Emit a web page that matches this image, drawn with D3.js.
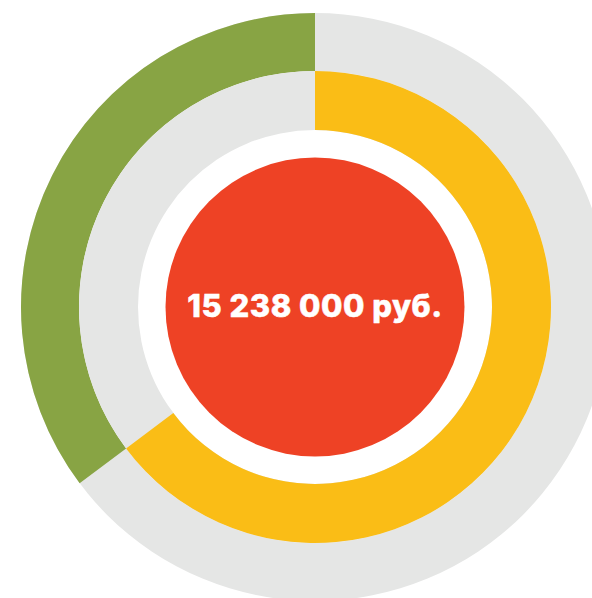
<!DOCTYPE html>
<html><head><meta charset="utf-8">
<script src="https://cdn.jsdelivr.net/npm/d3@7"></script>
<style>html,body{margin:0;padding:0;background:#fff;overflow:hidden}</style>
</head><body>
<svg id="c" width="592" height="598"></svg>
<script>
const total = 15238000;
const totalLabel = "15 238 000 руб.";
const ringNames = ["outer", "middle"];
const ringValues = [5368000, 9870000];      // outer (green, counter-clockwise), middle (yellow, clockwise)
const ringColors = ["#88A444", "#FABD16"];
const trackColor = "#E5E6E5";
const centerColor = "#EE4225";

const svg = d3.select("#c");
const cx = 315, cy = 307;
const g = svg.append("g").attr("transform", `translate(${cx},${cy})`);

const ang = d3.scaleLinear().domain([0, total]).range([0, 2 * Math.PI]);
const radii = [[236, 294], [177, 236]];
const directions = [-1, 1];

ringNames.forEach((n, i) => {
  const [ri, ro] = radii[i];
  const arc = d3.arc().innerRadius(ri).outerRadius(ro);
  g.append("path").attr("d", arc({startAngle: 0, endAngle: 2 * Math.PI})).attr("fill", trackColor);
  const a = ang(ringValues[i]) * directions[i];
  g.append("path")
    .attr("d", arc({startAngle: Math.min(0, a), endAngle: Math.max(0, a)}))
    .attr("fill", ringColors[i]);
});

g.append("circle").attr("r", 149.5).attr("fill", centerColor);

const t = g.append("text")
  .attr("x", 0).attr("y", 10)
  .attr("text-anchor", "middle")
  .attr("fill", "#fff")
  .attr("stroke", "#fff")
  .attr("stroke-width", 0.5)
  .style("font-family", "Inter, 'Open Sans', sans-serif")
  .style("font-weight", 800)
  .style("font-size", "31px")
  .style("letter-spacing", "0.5px")
  .text(totalLabel);
</script>
</body></html>
